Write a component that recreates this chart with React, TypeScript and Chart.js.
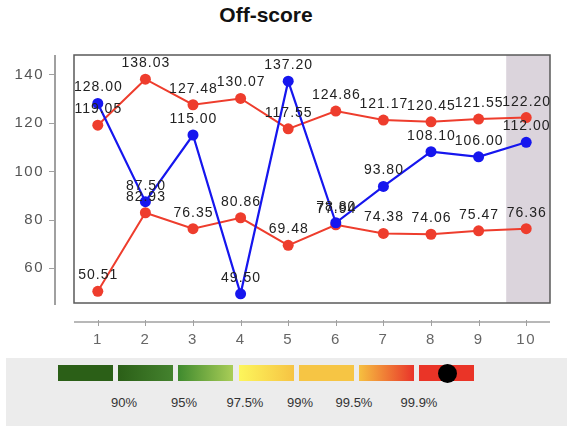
import React, { useEffect, useRef } from "react";
import { Chart, registerables } from "chart.js";

Chart.register(...registerables);

const categories = ["1", "2", "3", "4", "5", "6", "7", "8", "9", "10"];
const blueValues = [128.0, 87.5, 115.0, 49.5, 137.2, 78.8, 93.8, 108.1, 106.0, 112.0];
const redTopValues = [119.05, 138.03, 127.48, 130.07, 117.55, 124.86, 121.17, 120.45, 121.55, 122.2];
const redBottomValues = [50.51, 82.93, 76.35, 80.86, 69.48, 77.94, 74.38, 74.06, 75.47, 76.36];
const yTicks = [60, 80, 100, 120, 140];
const legendLabels = ["90%", "95%", "97.5%", "99%", "99.5%", "99.9%"];
const legendLabelX = [124, 184, 245, 300, 354, 419];
const legendFills = [
  "#2b5f17",
  "linear-gradient(to right, #2b5f17, #44822e)",
  "linear-gradient(to right, #3f8a2e, #a9cd57)",
  "linear-gradient(to right, #fdf65c, #f6c343)",
  "#f6c544",
  "linear-gradient(to right, #f6c040, #e9342a)",
  "#ea3427",
];

const RED = "#ee3d2d";
const BLUE = "#1616ee";
const FONT = "'Liberation Sans', Arial, sans-serif";

const customPlugin = {
  id: "custom",
  beforeDraw(chart: any) {
    chart.ctx.letterSpacing = "1.5px";
  },
  beforeDatasetsDraw(chart: any) {
    const { ctx, chartArea } = chart;
    const xs = chart.scales.x;
    const n = categories.length;
    const step = xs.getPixelForValue(1) - xs.getPixelForValue(0);
    const x0 = xs.getPixelForValue(n - 1) - step * 0.42;
    ctx.save();
    ctx.fillStyle = "#dbd4dc";
    ctx.fillRect(x0, chartArea.top, chartArea.right - x0, chartArea.bottom - chartArea.top);
    ctx.restore();
  },
  afterDatasetsDraw(chart: any) {
    const { ctx, chartArea } = chart;
    const xs = chart.scales.x;
    const ys = chart.scales.y;
    ctx.save();
    ctx.strokeStyle = "#5a5a5a";
    ctx.lineWidth = 1.5;
    ctx.strokeRect(chartArea.left, chartArea.top, chartArea.right - chartArea.left, chartArea.bottom - chartArea.top);
    const ax = chartArea.left - 19;
    ctx.strokeStyle = "#a0a0a0";
    ctx.lineWidth = 2;
    ctx.beginPath();
    ctx.moveTo(ax, chartArea.top);
    ctx.lineTo(ax, chartArea.bottom + 2);
    ctx.stroke();
    ctx.lineWidth = 1;
    yTicks.forEach((v) => {
      const y = Math.round(ys.getPixelForValue(v)) + 0.5;
      ctx.beginPath();
      ctx.moveTo(ax - 6, y);
      ctx.lineTo(ax, y);
      ctx.stroke();
    });
    const ay = chartArea.bottom + 19;
    ctx.lineWidth = 1.5;
    ctx.beginPath();
    ctx.moveTo(chartArea.left, ay);
    ctx.lineTo(chartArea.right, ay);
    ctx.stroke();
    ctx.lineWidth = 1;
    categories.forEach((_, i) => {
      const x = Math.round(xs.getPixelForValue(i)) + 0.5;
      ctx.beginPath();
      ctx.moveTo(x, ay - 2);
      ctx.lineTo(x, ay + 4);
      ctx.stroke();
    });
    ctx.font = "14px " + FONT;
    ctx.letterSpacing = "1px";
    ctx.fillStyle = "#222";
    ctx.textAlign = "center";
    ctx.textBaseline = "alphabetic";
    chart.data.datasets.forEach((ds: any, di: number) => {
      const meta = chart.getDatasetMeta(di);
      meta.data.forEach((pt: any, i: number) => {
        ctx.fillText(ds.data[i].toFixed(2), pt.x + 0.5, pt.y - 12);
      });
    });
    ctx.restore();
  },
};

export default function App() {
  const ref = useRef<HTMLCanvasElement>(null);
  useEffect(() => {
    if (!ref.current) return;
    const chart = new Chart(ref.current, {
      type: "line",
      data: {
        labels: categories,
        datasets: [
          { data: blueValues, borderColor: BLUE, backgroundColor: BLUE, borderWidth: 2.2, pointRadius: 5.5, pointBorderWidth: 0, tension: 0 },
          { data: redTopValues, borderColor: RED, backgroundColor: RED, borderWidth: 2, pointRadius: 5.5, pointBorderWidth: 0, tension: 0 },
          { data: redBottomValues, borderColor: RED, backgroundColor: RED, borderWidth: 2, pointRadius: 5.5, pointBorderWidth: 0, tension: 0 },
        ],
      },
      options: {
        animation: false,
        responsive: false,
        maintainAspectRatio: false,
        layout: { padding: { top: 55, right: 17, left: 0, bottom: 0 } },
        plugins: { legend: { display: false }, tooltip: { enabled: false }, title: { display: false } },
        scales: {
          x: {
            type: "category",
            offset: true,
            grid: { display: false, drawTicks: false },
            border: { display: false },
            ticks: { padding: 28, color: "#666", font: { size: 15, family: FONT }, maxRotation: 0 },
            afterFit(scale: any) {
              scale.height = 52;
            },
          },
          y: {
            min: 45.7,
            max: 148,
            grid: { display: false, drawTicks: false },
            border: { display: false },
            ticks: { padding: 30, color: "#555", font: { size: 15, family: FONT } },
            afterBuildTicks(scale: any) {
              scale.ticks = yTicks.map((v) => ({ value: v }));
            },
            afterFit(scale: any) {
              scale.width = 74;
            },
          },
        },
      },
      plugins: [customPlugin],
    } as any);
    return () => chart.destroy();
  }, []);

  return (
    <div style={{ position: "absolute", left: 0, top: 0, width: 567, height: 426, background: "#fff", fontFamily: FONT }}>
      <div style={{ position: "absolute", left: 166, width: 200, top: 3, textAlign: "center", fontWeight: "bold", fontSize: 21, color: "#111", lineHeight: "24px" }}>
        Off-score
      </div>
      <canvas ref={ref} width={567} height={355} style={{ position: "absolute", left: 0, top: 0, width: 567, height: 355 }} />
      <div style={{ position: "absolute", left: 6, top: 358, width: 561, height: 68, background: "#ececec" }}>
        {legendFills.map((f, i) => (
          <div key={i} style={{ position: "absolute", left: 52 + i * 60.2, top: 7, width: 55, height: 16, background: f }} />
        ))}
        <div style={{ position: "absolute", left: 441 - 9.5, top: 5.5, width: 19, height: 19, borderRadius: "50%", background: "#000" }} />
        {legendLabels.map((t, i) => (
          <div
            key={t}
            style={{ position: "absolute", left: legendLabelX[i] - 6 - 30, width: 60, top: 37, textAlign: "center", fontSize: 13, color: "#333", lineHeight: "15px" }}
          >
            {t}
          </div>
        ))}
      </div>
    </div>
  );
}
